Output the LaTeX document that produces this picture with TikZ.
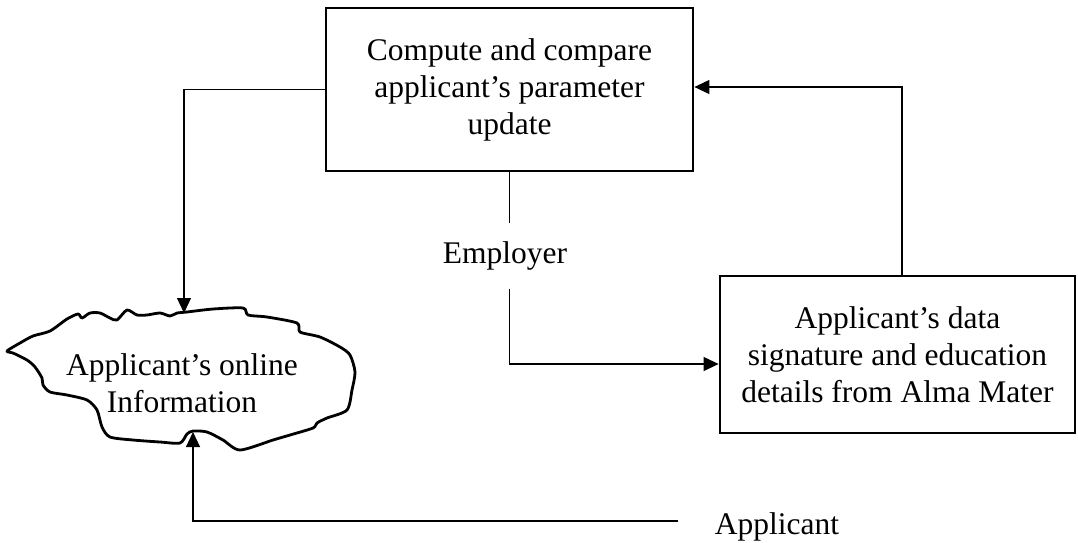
\documentclass[tikz,border=0pt]{standalone}
\usepackage{fontspec}
\setmainfont{Liberation Serif}
\usetikzlibrary{arrows.meta}

\tikzset{
  box/.style={draw, line width=2.8pt, align=center, inner sep=0pt},
  conn/.style={line width=1.2pt},
  arr/.style={conn, -{Triangle[length=15pt,width=14pt]}},
  label/.style={inner sep=0pt, align=center},
}

\begin{document}
\begin{tikzpicture}[x=1pt, y=-1pt, font=\fontsize{31.5}{37}\selectfont]
  \useasboundingbox (0,0) rectangle (1078,542);

  % process boxes
  \node[box, minimum width=367pt, minimum height=163pt] (compute) at (509.5,89.5)
    {Compute and compare\\applicant's parameter\\update};
  \node[box, minimum width=355pt, minimum height=157pt] (alma) at (897.5,354.5)
    {Applicant's data\\signature and education\\details from Alma Mater};

  % hand-drawn cloud holding the online information
  \draw[line width=2.8pt, line join=round]
    plot[smooth cycle, tension=0.45] coordinates {
      (7,351) (20,343) (33,336) (50,331) (67,319) (78,314) (82,318) (90,313)
      (100,313) (110,318) (117,320) (127,310) (137,315) (147,315) (160,313)
      (170,316) (177,313) (187,312) (213,309) (243,308) (248,315) (267,317)
      (297,323) (300,332) (320,337) (340,347) (350,355) (355,372) (352,390)
      (347,410) (327,418) (317,423) (313,428) (290,435) (273,440) (240,450)
      (223,440) (207,432) (193,431) (187,434) (180,443) (160,442) (133,440)
      (110,437) (102,427) (97,410) (87,400) (67,395) (50,392) (43,385)
      (42,378) (35,367) (27,360) (13,353)};
  \node[label] (online) at (182,383) {Applicant's online\\Information};
  \coordinate (cloudtop) at (184,313);
  \coordinate (cloudbot) at (193,432);

  % free-standing labels
  \node[label, minimum height=65pt] (employer) at (505,256) {Employer};
  \node[label] (applicant) at (777,527) {Applicant};

  % connectors
  \draw[arr] (compute.west) -| (cloudtop);
  \draw[conn] (compute.south) -- (compute.south |- employer.north);
  \draw[arr] (compute.south |- employer.south) |- ([yshift=-9.5pt]alma.west);
  \draw[arr] ([xshift=4.5pt]alma.north) |- ([yshift=2.5pt]compute.east);
  \draw[arr] ([shift={(-37pt,6pt)}]applicant.west) -| (cloudbot);
\end{tikzpicture}
\end{document}
